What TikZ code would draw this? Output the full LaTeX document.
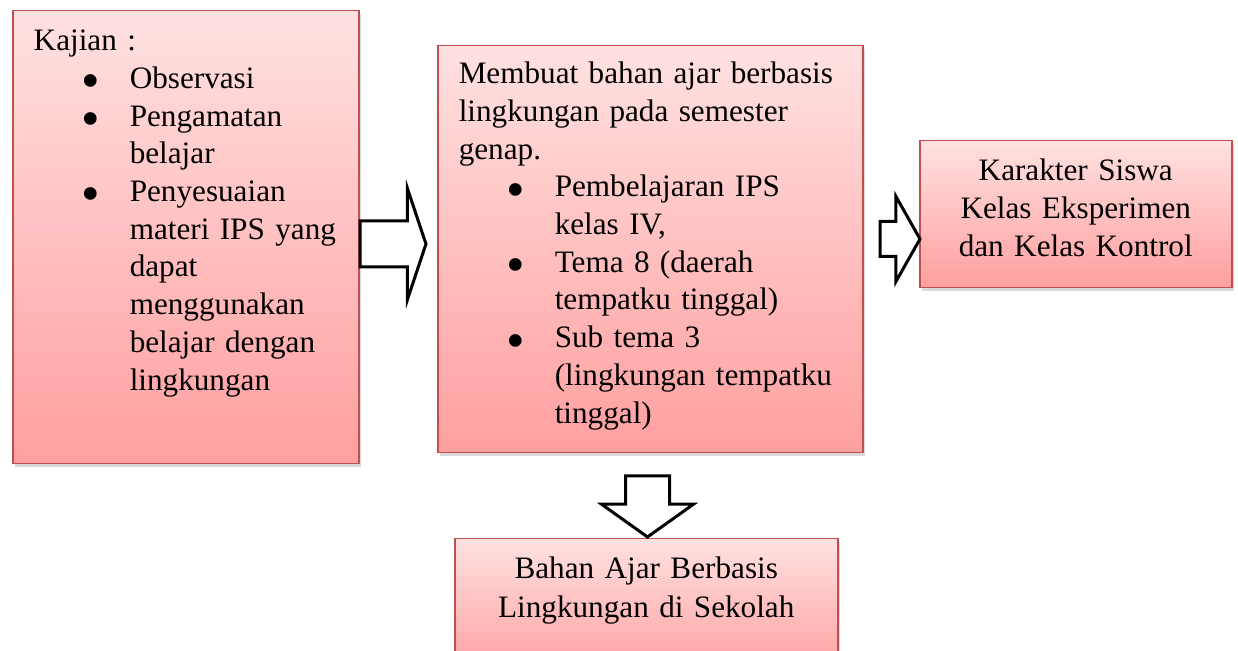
\documentclass[tikz,border=0pt]{standalone}
\usepackage{fontspec}
\setmainfont{Liberation Serif}
\usepackage{graphicx}
\usepackage{tikz}
\usetikzlibrary{shapes.arrows,shadows}
\usepackage{xcolor}
\definecolor{garis}{HTML}{C0504D}
\definecolor{atas}{HTML}{FFE1E1}
\definecolor{bawah}{HTML}{FF9F9F}
\newcommand\butir[1]{\par{\leftskip=48pt\noindent\llap{\makebox[24pt][l]{\smash{\raisebox{-5.2pt}{\scalebox{1.7}{\textbullet}}}}}#1\par}}
\tikzset{
  kotak/.style={draw=garis, line width=0.75pt, top color=atas, bottom color=bawah,
    drop shadow={shadow xshift=1pt, shadow yshift=-1.5pt, opacity=0.3},
    anchor=north west, inner xsep=10.5pt, inner ysep=0pt, align=left,
    font=\fontsize{15.6}{18.85}\selectfont},
  panah/.style={single arrow, draw=black, line width=1.5pt, fill=white,
    inner xsep=0pt, text height=0pt, text depth=0pt, text width=0pt,
    single arrow head indent=0pt, anchor=tail}
}
\begin{document}
\begin{tikzpicture}[x=0.5pt,y=-0.5pt]
			\useasboundingbox (0,0) rectangle (1238,651);
			\coordinate (1) at (12,10);
			\coordinate (2) at (437,45);
			\coordinate (3) at (919,140);
			\coordinate (4) at (454,538);
			\node[kotak, text width=152pt, text height=20pt, text depth=206.5pt] (kajian) at (1) {Kajian :
				\butir{Observasi}
				\butir{Pengamatan\\ belajar}
				\butir{Penyesuaian\\ materi IPS yang\\ dapat\\ menggunakan\\ belajar dengan\\ lingkungan}};
			\node[kotak, text width=191.5pt, text height=19pt, text depth=184.5pt] (membuat) at (2) {Membuat bahan ajar berbasis\\ lingkungan pada semester\\ genap.
				\butir{Pembelajaran IPS\\ kelas IV,}
				\butir{Tema 8 (daerah\\ tempatku tinggal)}
				\butir{Sub tema 3\\ (lingkungan tempatku\\ tinggal)}};
			\node[kotak, align=center, text width=135pt, text height=20pt, text depth=53.5pt] (karakter) at (3) {Karakter Siswa\\ Kelas Eksperimen\\ dan Kelas Kontrol};
			\node[kotak, align=center, text width=170.5pt, text height=20pt, text depth=48.5pt,
				font=\fontsize{15.6}{19.5}\selectfont] (bahan) at (4) {Bahan Ajar Berbasis\\ Lingkungan di Sekolah};
			% panah blok
			\node[panah, minimum height=33pt, inner ysep=10.75pt, single arrow head extend=16.25pt, single arrow tip angle=143] (panah1) at (358.5,244) {};
			\node[panah, minimum height=20pt, inner ysep=8pt, single arrow head extend=12.5pt, single arrow tip angle=121] (panah2) at (878.5,239) {};
			\node[panah, rotate=-90, minimum height=30.5pt, inner ysep=10.25pt, single arrow head extend=12pt, single arrow tip angle=109] (panah3) at (647.5,474.5) {};
		\end{tikzpicture}
\end{document}
